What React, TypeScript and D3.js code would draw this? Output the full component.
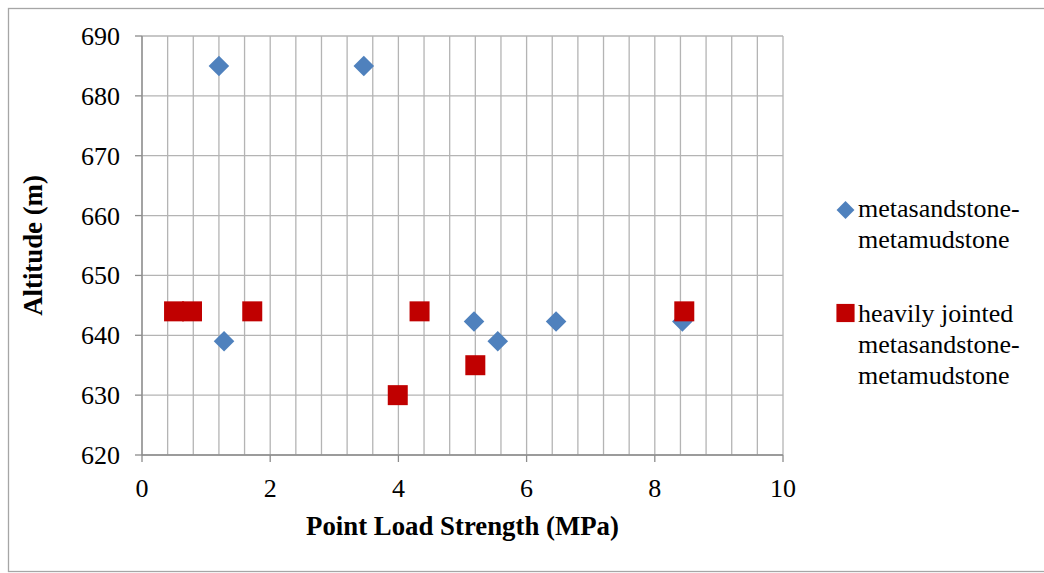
import React from "react";
import * as d3 from "d3";

// Point load strength (MPa) vs altitude (m) by rock unit
const sandstoneStrength = [1.2, 3.46, 1.28, 5.18, 5.55, 6.46, 8.43];
const sandstoneAltitude = [685, 685, 639, 642.3, 639, 642.3, 642.3];
const jointedStrength = [0.5, 0.78, 1.72, 3.99, 4.33, 5.2, 8.46];
const jointedAltitude = [644, 644, 644, 630, 644, 635, 644];

const xTicks = [0, 2, 4, 6, 8, 10];
const xMinorTicks = d3.range(0, 10.0001, 0.4);
const yTicks = [620, 630, 640, 650, 660, 670, 680, 690];

const seriesNames = [
  ["metasandstone-", "metamudstone"],
  ["heavily jointed", "metasandstone-", "metamudstone"],
];

const W = 1044;
const H = 573;
const FONT = '"Liberation Serif", "DejaVu Serif", serif';
const BLUE = "#4F81BD";
const RED = "#C00000";
const GRID = "#b4b4b4";
const AXIS = "#8c8c8c";

const txt: React.CSSProperties = { fontFamily: FONT, fontSize: 26 };
const bold: React.CSSProperties = { fontFamily: FONT, fontSize: 26.8, fontWeight: "bold" };

export default function App() {
  const x = d3.scaleLinear().domain([0, 10]).range([142, 783]);
  const y = d3.scaleLinear().domain([620, 690]).range([455, 36]);

  const diamond = d3.symbol(d3.symbolSquare, 212)() as string;
  const square = d3.symbol(d3.symbolSquare, 400)() as string;
  const legendDiamond = d3.symbol(d3.symbolSquare, 160)() as string;
  const legendSquare = d3.symbol(d3.symbolSquare, 330)() as string;

  return (
    <svg
      width={W}
      height={H}
      style={{ position: "absolute", left: 0, top: 0, background: "#fff", fontFamily: FONT }}
    >
      <rect x={8.5} y={8.5} width={1040} height={563} fill="#fff" stroke="#a6a6a6" strokeWidth={1.3} />

      {/* vertical gridlines (minor unit 0.4) */}
      {xMinorTicks.map((t) => (
        <line key={"vx" + t} x1={x(t)} x2={x(t)} y1={y(690)} y2={y(620)} stroke={GRID} strokeWidth={1.3} />
      ))}
      {/* horizontal gridlines */}
      {yTicks.map((t) => (
        <line key={"hy" + t} x1={x(0)} x2={x(10)} y1={y(t)} y2={y(t)} stroke={GRID} strokeWidth={1.3} />
      ))}

      {/* axes */}
      <line x1={x(0)} x2={x(10)} y1={y(620)} y2={y(620)} stroke={AXIS} strokeWidth={1.3} />
      <line x1={x(0)} x2={x(0)} y1={y(690)} y2={y(620)} stroke={AXIS} strokeWidth={1.3} />
      {xTicks.map((t) => (
        <g key={"xt" + t}>
          <line x1={x(t)} x2={x(t)} y1={y(620)} y2={y(620) + 7} stroke={AXIS} strokeWidth={1.3} />
          <text x={x(t)} y={497} textAnchor="middle" style={txt} fill="#000">
            {t}
          </text>
        </g>
      ))}
      {yTicks.map((t) => (
        <g key={"yt" + t}>
          <line x1={x(0) - 7} x2={x(0)} y1={y(t)} y2={y(t)} stroke={AXIS} strokeWidth={1.3} />
          <text x={120} y={y(t) + 9} textAnchor="end" style={txt} fill="#000">
            {t}
          </text>
        </g>
      ))}

      {/* axis titles */}
      <text x={(x(0) + x(10)) / 2} y={535} textAnchor="middle" style={bold} fill="#000">
        Point Load Strength (MPa)
      </text>
      <text
        transform={`translate(${42},${(y(620) + y(690)) / 2}) rotate(-90)`}
        textAnchor="middle"
        style={bold}
        fill="#000"
      >
        Altitude (m)
      </text>

      {/* series */}
      {sandstoneStrength.map((v, i) => (
        <path
          key={"s" + i}
          d={diamond}
          transform={`translate(${x(v)},${y(sandstoneAltitude[i])}) rotate(45)`}
          fill={BLUE}
        />
      ))}
      {jointedStrength.map((v, i) => (
        <path key={"j" + i} d={square} transform={`translate(${x(v)},${y(jointedAltitude[i])})`} fill={RED} />
      ))}

      {/* legend */}
      <path d={legendDiamond} transform="translate(845.5,210) rotate(45)" fill={BLUE} />
      {seriesNames[0].map((s, i) => (
        <text key={"l0" + i} x={858} y={217 + i * 31} style={txt} fill="#000">
          {s}
        </text>
      ))}
      <path d={legendSquare} transform="translate(845.5,313)" fill={RED} />
      {seriesNames[1].map((s, i) => (
        <text key={"l1" + i} x={858} y={322 + i * 31} style={txt} fill="#000">
          {s}
        </text>
      ))}
    </svg>
  );
}
